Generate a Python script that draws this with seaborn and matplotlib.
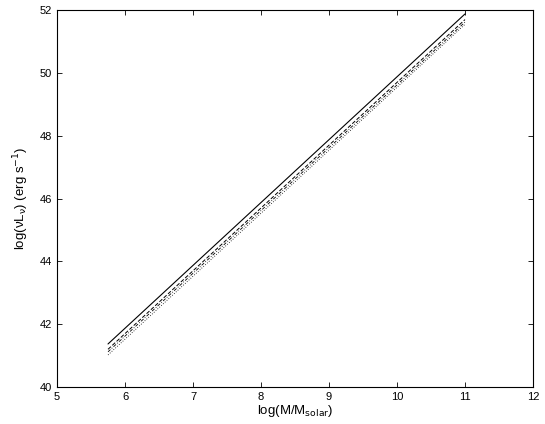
import matplotlib
matplotlib.use("Agg")
import matplotlib.pyplot as plt
import seaborn as sns

# line end points
log_mass = [5.75, 11.0]
lum_solid = [41.37, 51.88]
lum_dashed = [41.20, 51.70]
lum_dashdot = [41.12, 51.62]
lum_dotted = [41.02, 51.55]

sns.set_style("ticks")
plt.rcParams['font.family'] = ['Liberation Sans', 'DejaVu Sans']
plt.rcParams['text.color'] = 'black'
plt.rcParams['axes.labelcolor'] = 'black'
plt.rcParams['xtick.color'] = 'black'
plt.rcParams['ytick.color'] = 'black'

fig = plt.figure(figsize=(5.45, 4.24), dpi=100)
ax = fig.add_axes([0.1046, 0.0873, 0.8734, 0.8887])

sns.lineplot(x=log_mass, y=lum_solid, ax=ax, color='black', lw=0.8, linestyle='-')
sns.lineplot(x=log_mass, y=lum_dashed, ax=ax, color='black', lw=0.7, linestyle=(0, (4, 2)))
sns.lineplot(x=log_mass, y=lum_dashdot, ax=ax, color='black', lw=0.6, linestyle=(0, (4, 2, 1, 2)))
sns.lineplot(x=log_mass, y=lum_dotted, ax=ax, color='black', lw=0.6, linestyle=(0, (1, 2)))

ax.set_xlim(5, 12)
ax.set_ylim(40, 52)
ax.set_xticks(range(5, 13))
ax.set_yticks(range(40, 53, 2))
ax.tick_params(direction='in', top=True, right=True, labelsize=8, length=3.5, width=0.6)
for s in ax.spines.values():
    s.set_visible(True)
    s.set_linewidth(0.8)
    s.set_color('black')

ax.set_xlabel(r"log(M/M$_{\rm solar}$)", fontsize=9.5, labelpad=1)
ax.set_ylabel(r"log(νL$_{\rm ν}$) (erg s$^{-1}$)", fontsize=9.5, labelpad=6)

fig.savefig("out.png", dpi=100)
